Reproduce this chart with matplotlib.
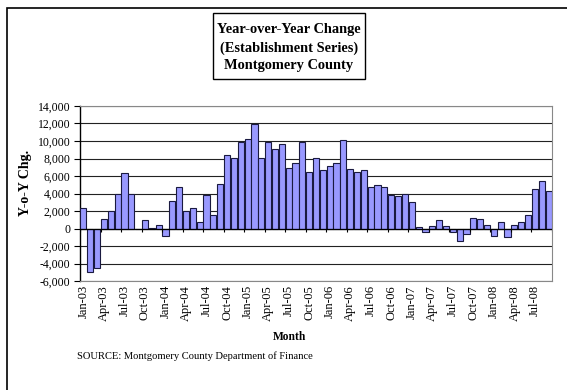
import matplotlib
matplotlib.use("Agg")
import matplotlib.pyplot as plt
from matplotlib.patches import Rectangle

# Monthly year-over-year change, Jan-03 .. Sep-08
months = []
for yr in range(3, 9):
    for m in ["Jan", "Feb", "Mar", "Apr", "May", "Jun", "Jul", "Aug", "Sep", "Oct", "Nov", "Dec"]:
        months.append(f"{m}-{yr:02d}")
months = months[:69]

yoy_change = [
    2300, -5000, -4500, 1100, 2000, 4000, 6400, 4000, -100, 1000, 100, 450,
    -900, 3200, 4800, 2000, 2400, 800, 3800, 1600, 5100, 8400, 8100, 9850,
    10200, 11900, 8100, 9900, 9050, 9700, 6950, 7500, 9900, 6500, 8100, 6650,
    7150, 7450, 10100, 6800, 6500, 6650, 4700, 5000, 4750, 3800, 3750, 4000,
    3000, 200, -450, 300, 1000, 300, -450, -1400, -600, 1250, 1100, 400,
    -850, 750, -950, 400, 700, 1500, 4500, 5450, 4300,
]

y_ticks = list(range(-6000, 14001, 2000))
label_step = 3

plt.rcParams['font.family'] = ['Liberation Serif', 'DejaVu Serif']

W, H = 567, 390
fig = plt.figure(figsize=(W / 100, H / 100), dpi=100)

# outer frame (left and top visible)
fig.patches.append(Rectangle((7 / W, -0.1), 1.2, (H - 8) / H + 0.1, transform=fig.transFigure,
                             fill=False, edgecolor='black', linewidth=1.2))

# title box
bx0, bx1, by0, by1 = 213, 365, 13, 79
fig.patches.append(Rectangle((bx0 / W, 1 - by1 / H), (bx1 - bx0) / W, (by1 - by0) / H,
                             transform=fig.transFigure, fill=False, edgecolor='black', linewidth=1.0))
for line, ypx in zip(["Year-over-Year Change", "(Establishment Series)", "Montgomery County"], [30, 48, 66]):
    fig.text((bx0 + bx1) / 2 / W, 1 - ypx / H, line, ha='center', va='center',
             fontsize=10.4, fontweight='bold')

ax = fig.add_axes([80 / W, 1 - 281 / H, (552 - 80) / W, (281 - 106) / H])
x = list(range(len(months)))
ax.bar(x, yoy_change, width=0.9, color='#9999ff', edgecolor='#1a1a40', linewidth=0.8, zorder=3)

ax.set_xlim(-0.5, len(months) - 0.5)
ax.set_ylim(-6000, 14000)
ax.set_yticks(y_ticks)
ax.set_yticklabels([f"{v:,}" for v in y_ticks], fontsize=8.5)
ax.yaxis.grid(True, color='#222222', linewidth=0.8, zorder=0)
ax.tick_params(axis='y', length=4, width=0.8, pad=3)

ax.set_xticks(x[::label_step])
ax.set_xticklabels(months[::label_step], rotation=90, fontsize=9)
ax.tick_params(axis='x', length=0, pad=3)

# category axis at zero with tick marks between label groups
ax.axhline(0, color='black', linewidth=0.9, zorder=4)
bounds = [i - 0.5 for i in range(0, len(months) + 1, label_step)]
ax.vlines(bounds, -350, 0, color='black', linewidth=0.8, zorder=4)

for side in ['top', 'right', 'bottom']:
    ax.spines[side].set_color('#888888')
ax.spines['left'].set_color('black')
ax.spines['left'].set_linewidth(1.0)

fig.text(25 / W, 1 - 183 / H, "Y-o-Y Chg.", rotation=90, ha='center', va='center',
         fontsize=10, fontweight='bold')
fig.text(290 / W, 1 - 337 / H, "Month", ha='center', va='center', fontsize=8.3, fontweight='bold')
fig.text(77 / W, 1 - 356 / H, "SOURCE: Montgomery County Department of Finance", ha='left', va='center',
         fontsize=7.6)

fig.savefig("out.png", dpi=100)
